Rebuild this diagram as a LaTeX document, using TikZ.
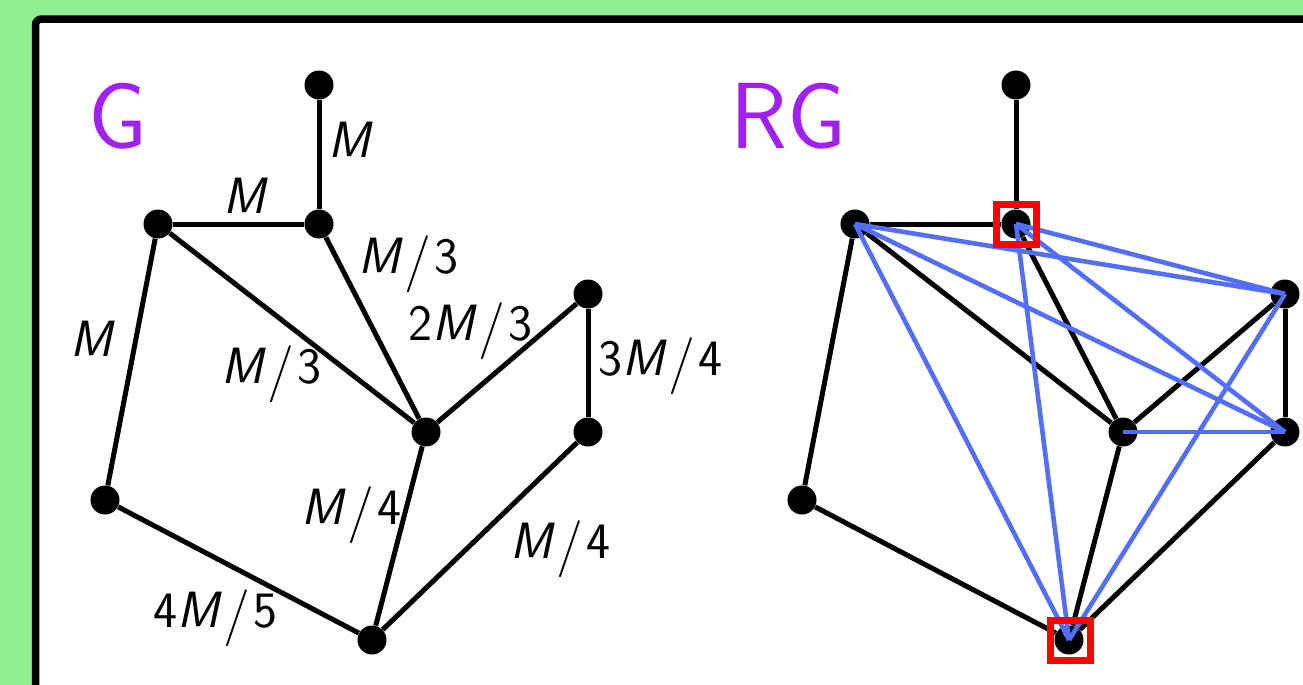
\documentclass[tikz,border=0pt]{standalone}
\usepackage{fontspec}
\definecolor{bggreen}{HTML}{90EE90}
\definecolor{myblue}{RGB}{82,110,250}
\definecolor{mypurple}{RGB}{160,32,240}
\newcommand\Mi{{\slshape M}}
\newcommand\Sl{\kern2pt\raisebox{-0.1em}{\scalebox{1.12}{/}}\kern1.5pt}
\begin{document}
\begin{tikzpicture}[x=0.5pt,y=-0.5pt,
  vtx/.style={circle,fill=black,inner sep=0pt,minimum size=14.5pt},
  edge/.style={line width=2.5pt,black},
  bedge/.style={line width=2.3pt,myblue},
  lbl/.style={anchor=base west,inner sep=0pt,font=\fontsize{25.5}{28}\selectfont\sffamily},
  ttl/.style={anchor=base west,inner sep=0pt,text=mypurple,font=\fontsize{47}{52}\selectfont\sffamily},
  redsq/.style={draw=red,line width=3.5pt,minimum size=20pt,inner sep=0pt}
]
\useasboundingbox (0,0) rectangle (1303,685);
\clip (0,0) rectangle (1303,685);
\fill[bggreen] (0,0) rectangle (1303,685);
\draw[line width=3.75pt,fill=white,rounded corners=3pt] (35.5,19) rectangle (1400,800);

% ---------- G ----------
\node[ttl] (tG) at (88,148) {G};
\node[vtx] (a1) at (319,85) {};
\node[vtx] (b1) at (319,224) {};
\node[vtx] (c1) at (158,224) {};
\node[vtx] (d1) at (105,500) {};
\node[vtx] (e1) at (426,432) {};
\node[vtx] (f1) at (588,294) {};
\node[vtx] (g1) at (588,432) {};
\node[vtx] (h1) at (372,640) {};
\draw[edge] (a1) -- (b1);
\draw[edge] (c1) -- (b1);
\draw[edge] (c1) -- (d1);
\draw[edge] (c1) -- (e1);
\draw[edge] (b1) -- (e1);
\draw[edge] (e1) -- (f1);
\draw[edge] (f1) -- (g1);
\draw[edge] (e1) -- (h1);
\draw[edge] (g1) -- (h1);
\draw[edge] (d1) -- (h1);
\node[lbl] (l1) at (328,157) {\Mi};
\node[lbl] (l2) at (223,213) {\Mi};
\node[lbl] (l3) at (70,356) {\Mi};
\node[lbl] (l4) at (358,273) {\Mi\Sl 3};
\node[lbl] (l5) at (221,383) {\Mi\Sl 3};
\node[lbl] (l6) at (408,340) {2\Mi\Sl 3};
\node[lbl] (l7) at (598,375) {3\Mi\Sl 4};
\node[lbl] (l8) at (301,524) {\Mi\Sl 4};
\node[lbl] (l9) at (510,558) {\Mi\Sl 4};
\node[lbl] (l10) at (153,627) {4\Mi\Sl 5};

% ---------- RG ----------
\node[ttl] (tRG) at (730,148) {RG};
\node[vtx] (a2) at (1016,85) {};
\node[vtx] (b2) at (1016,224) {};
\node[vtx] (c2) at (855,224) {};
\node[vtx] (d2) at (802,500) {};
\node[vtx] (e2) at (1123,432) {};
\node[vtx] (f2) at (1285,294) {};
\node[vtx] (g2) at (1285,432) {};
\node[vtx] (h2) at (1069,640) {};
\draw[edge] (a2) -- (b2);
\draw[edge] (c2) -- (b2);
\draw[edge] (c2) -- (d2);
\draw[edge] (c2) -- (e2);
\draw[edge] (b2) -- (e2);
\draw[edge] (e2) -- (f2);
\draw[edge] (f2) -- (g2);
\draw[edge] (e2) -- (h2);
\draw[edge] (g2) -- (h2);
\draw[edge] (d2) -- (h2);
\draw[bedge] (c2.center) -- (f2.center);
\draw[bedge] (c2.center) -- (g2.center);
\draw[bedge] (c2.center) -- (h2.center);
\draw[bedge] (b2.center) -- (f2.center);
\draw[bedge] (b2.center) -- (g2.center);
\draw[bedge] (b2.center) -- (h2.center);
\draw[bedge] (e2.center) -- (g2.center);
\draw[bedge] (f2.center) -- (h2.center);
\node[redsq] (s1) at (1016.5,224) {};
\node[redsq] (s2) at (1070.5,640.5) {};
\end{tikzpicture}
\end{document}
